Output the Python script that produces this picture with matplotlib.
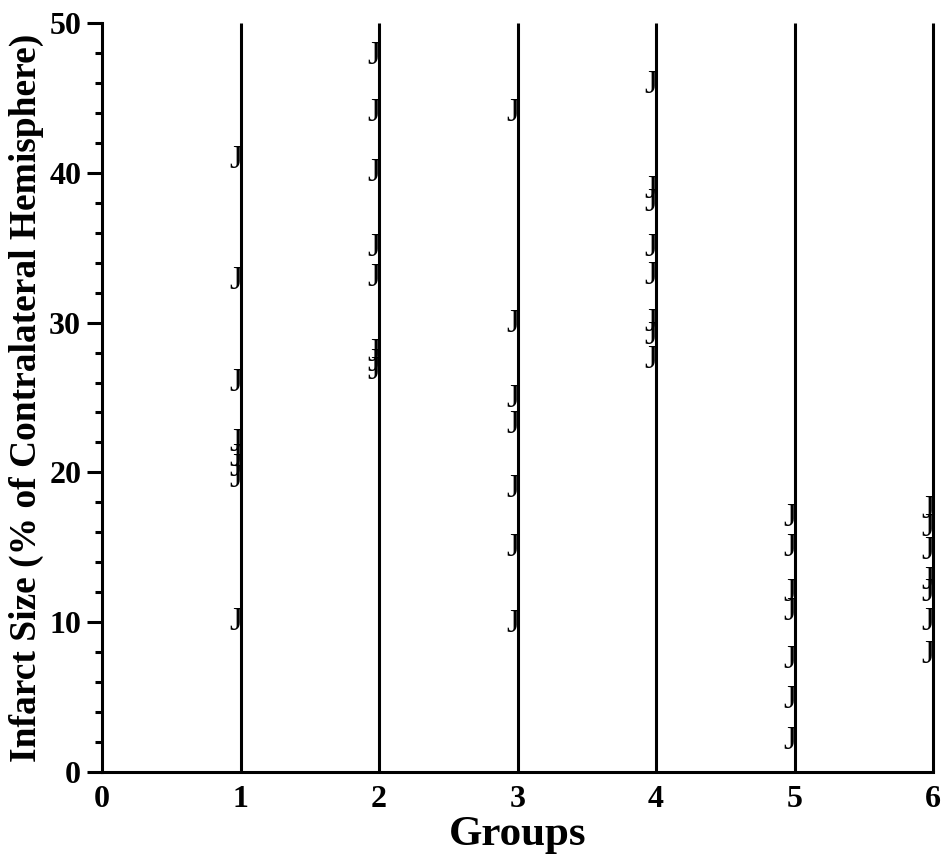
import matplotlib.pyplot as plt
from matplotlib.ticker import MultipleLocator

plt.rcParams['font.family'] = ['Liberation Serif', 'DejaVu Serif']

# infarct size per animal, % of contralateral hemisphere
groups = [1, 2, 3, 4, 5, 6]
g1 = [40.9, 32.8, 26.0, 22.0, 21.0, 20.3, 19.6, 10.0]
g2 = [47.8, 44.0, 40.0, 35.0, 33.0, 28.0, 27.3, 26.8]
g3 = [44.0, 29.9, 24.9, 23.2, 18.9, 15.0, 9.9]
g4 = [45.9, 38.9, 38.0, 35.0, 33.1, 30.0, 29.1, 27.5]
g5 = [17.0, 15.0, 12.0, 10.7, 7.5, 4.8, 2.1]
g6 = [17.5, 16.3, 14.8, 12.8, 12.0, 10.0, 7.8]
values = [g1, g2, g3, g4, g5, g6]

fig = plt.figure(figsize=(9.48, 8.58), dpi=100)
ax = fig.add_axes([0.1076, 0.1002, 0.8766, 0.873])

ax.set_xlim(0, 6)
ax.set_ylim(0, 50)

# full height group lines
ax.vlines(groups, 0, 50, color='black', linewidth=2.2, clip_on=False)

for g, vals in zip(groups, values):
    for v in vals:
        ax.annotate('J', (g, v), xytext=(1, 0), textcoords='offset points',
                    ha='right', va='center', fontsize=24, color='black')

for s in ['top', 'right']:
    ax.spines[s].set_visible(False)
for s in ['left', 'bottom']:
    ax.spines[s].set_linewidth(2.2)

ax.set_xticks(range(0, 7))
ax.yaxis.set_major_locator(MultipleLocator(10))
ax.yaxis.set_minor_locator(MultipleLocator(2))
ax.tick_params(axis='x', length=0, pad=9, labelsize=23)
ax.tick_params(axis='y', which='major', length=11, width=2.2, pad=4, labelsize=23)
ax.tick_params(axis='y', which='minor', length=5, width=2.2)
for lab in ax.get_xticklabels() + ax.get_yticklabels():
    lab.set_fontweight('bold')

ax.set_xlabel('Groups', fontsize=31, fontweight='bold', labelpad=2)
ax.set_ylabel('Infarct Size (% of Contralateral Hemisphere)', fontsize=27,
              fontweight='bold', labelpad=4)

plt.savefig('out.png', dpi=100)
